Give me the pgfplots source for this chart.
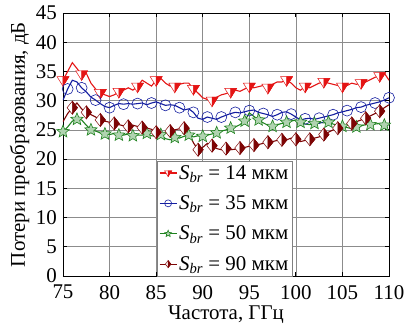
\documentclass[border=0pt]{standalone}
\usepackage{fontspec}
\setmainfont{Liberation Serif}
\usepackage{pgfplots}
\usepackage{pgfplotstable}
\pgfplotsset{compat=1.18}
\definecolor{cred}{RGB}{228,20,20}
\definecolor{cblue}{RGB}{20,30,160}
\definecolor{cgreen}{RGB}{30,130,30}
\definecolor{cdred}{RGB}{125,5,5}
\pgfdeclareplotmark{tridownhalf}{%
  \pgfpathmoveto{\pgfqpoint{-\pgfplotmarksize}{0.6\pgfplotmarksize}}%
  \pgfpathlineto{\pgfqpoint{\pgfplotmarksize}{0.6\pgfplotmarksize}}%
  \pgfpathlineto{\pgfqpoint{0pt}{-\pgfplotmarksize}}%
  \pgfpathclose
  \pgfsetfillcolor{white}\pgfusepathqfillstroke
  \pgfpathmoveto{\pgfqpoint{0pt}{0.6\pgfplotmarksize}}%
  \pgfpathlineto{\pgfqpoint{\pgfplotmarksize}{0.6\pgfplotmarksize}}%
  \pgfpathlineto{\pgfqpoint{0pt}{-\pgfplotmarksize}}%
  \pgfpathclose
  \pgfsetfillcolor{cred}\pgfusepathqfillstroke
}
\pgfdeclareplotmark{diamhalf}{%
  \pgfpathmoveto{\pgfqpoint{0pt}{\pgfplotmarksize}}%
  \pgfpathlineto{\pgfqpoint{0.8\pgfplotmarksize}{0pt}}%
  \pgfpathlineto{\pgfqpoint{0pt}{-\pgfplotmarksize}}%
  \pgfpathlineto{\pgfqpoint{-0.8\pgfplotmarksize}{0pt}}%
  \pgfpathclose
  \pgfsetfillcolor{white}\pgfusepathqfillstroke
  \pgfpathmoveto{\pgfqpoint{0pt}{\pgfplotmarksize}}%
  \pgfpathlineto{\pgfqpoint{0.8\pgfplotmarksize}{0pt}}%
  \pgfpathlineto{\pgfqpoint{0pt}{-\pgfplotmarksize}}%
  \pgfpathclose
  \pgfsetfillcolor{cdred}\pgfusepathqfillstroke
}
\pgfdeclareplotmark{fstar}{%
  \pgfpathmoveto{\pgfqpointpolar{90}{\pgfplotmarksize}}%
  \pgfpathlineto{\pgfqpointpolar{126}{0.45\pgfplotmarksize}}%
  \pgfpathlineto{\pgfqpointpolar{162}{\pgfplotmarksize}}%
  \pgfpathlineto{\pgfqpointpolar{198}{0.45\pgfplotmarksize}}%
  \pgfpathlineto{\pgfqpointpolar{234}{\pgfplotmarksize}}%
  \pgfpathlineto{\pgfqpointpolar{270}{0.45\pgfplotmarksize}}%
  \pgfpathlineto{\pgfqpointpolar{306}{\pgfplotmarksize}}%
  \pgfpathlineto{\pgfqpointpolar{342}{0.45\pgfplotmarksize}}%
  \pgfpathlineto{\pgfqpointpolar{18}{\pgfplotmarksize}}%
  \pgfpathlineto{\pgfqpointpolar{54}{0.45\pgfplotmarksize}}%
  \pgfpathclose
  \pgfusepathqfillstroke
}
\pgfplotstableread{
f a b c d
75 33.5 30.1 24.7 26.4
75.5 35 32 25.5 27.8
76 36.5 33.5 26.5 28.8
76.5 35.5 33.2 26.8 29.6
77 34.5 32.2 26.7 28.6
77.5 34.7 31.5 25.8 28
78 33 30.6 25 27.6
78.5 32 30.1 24.8 27.2
79 31.3 29.5 24.5 26.7
79.5 31 29 24.3 26.5
80 30.7 28.8 24.2 26.3
80.5 31 29.2 24.4 26.1
81 31.5 29.5 24.1 25.9
81.5 31.8 29.4 24.1 25.7
82 32.2 29.5 24.3 25.6
82.5 31.8 29.4 24 25.8
83 32.4 29.5 24.1 25.6
83.5 33.5 29.6 24.1 25.4
84 33 29.3 24.4 25.3
84.5 32.5 29.6 24 25.1
85 33.5 29.8 23.9 24.6
85.5 33.8 29.5 24.2 24.1
86 33 29.2 23.5 24.5
86.5 32.5 29.3 23.3 24.8
87 32.4 29.2 23.7 25
87.5 32.8 28.8 23.6 25.2
88 33 28.4 23.9 25.3
88.5 33 28.6 24.1 24.5
89 32 28 23.8 22.8
89.5 31.3 27 24 21.6
90 30.5 26.8 23.9 22
90.5 30.2 27.2 24.1 22.7
91 30 27 24.3 22.3
91.5 30.6 26.8 24.5 21.8
92 31 27.2 24.8 21.6
92.5 31.2 27.5 25 21.8
93 31.5 27.8 25.3 21.6
93.5 31.8 28 25.5 21.7
94 31.6 27.9 25.9 21.9
94.5 32 28.1 26.5 22
95 32.4 28.3 27.9 22.2
95.5 32.2 28.4 27.3 22.4
96 32.4 28 26.7 22.5
96.5 32.6 27.8 26.2 22.7
97 32.2 27.6 25.8 22.9
97.5 32.8 27.3 25.6 23
98 33.2 27.6 25.9 23.2
98.5 33.2 28 26.1 23.3
99 33.5 28.1 26.3 23.3
99.5 33 27.7 26.5 23.6
100 32.2 27.2 26.7 23.4
100.5 31.8 26.7 26.3 23
101 32.4 26.9 26 23.2
101.5 32.2 27 25.9 23.4
102 32.6 26.8 26.1 23.6
102.5 33 27 26.3 23.8
103 33.2 27.2 26.2 24.2
103.5 33 27.4 26.3 24.6
104 32.8 27.6 26 25
104.5 32.6 27.9 25.8 25.3
105 32.4 28.1 25.6 25.6
105.5 32.6 28.3 25.4 25.9
106 33 28.5 25.2 26.1
106.5 32.8 28.8 25.5 26.4
107 33 28.9 25.7 26.7
107.5 33.2 29.2 25.9 27
108 33.6 29.4 25.9 27.4
108.5 34 29.6 26 27.8
109 34.2 29.8 26.1 28.2
109.5 34.7 30.1 25.8 28.8
110 33.5 30.5 26.1 29.3
}\datatab
\begin{document}
\begin{tikzpicture}
\useasboundingbox (-63bp,-53bp) rectangle (347bp,276bp);
\begin{axis}[
  scale only axis, width=326bp, height=263bp,
  at={(0,0)}, anchor=south west,
  xmin=75, xmax=110, ymin=0, ymax=45,
  xtick={75,80,...,110}, ytick={0,5,...,45},
  grid=major, major grid style={draw=black!45, line width=0.6pt},
  axis line style={line width=1pt},
  tick style={black, line width=0.8pt},
  font=\fontsize{21}{24}\selectfont,
  /pgf/number format/assume math mode=true,
  ticklabel style={font=\fontsize{21}{24}\selectfont},
  xticklabel style={inner sep=1bp, yshift=-8bp},
  yticklabel style={inner sep=1bp, xshift=-5bp},
  xlabel={Частота, ГГц}, ylabel={Потери преобразования, дБ},
  xlabel style={yshift=-2bp},
  ylabel style={yshift=2bp},
  legend style={at={(rel axis cs:0.288,0)}, anchor=south west,
    draw=black!50, fill=white, font=\fontsize{21}{24}\selectfont,
    inner sep=2bp, row sep=11bp, cells={anchor=west}},
  legend image post style={mark size=3.5bp},
  every axis plot/.append style={line width=1.1pt},
]
\addplot[cred, mark=tridownhalf, mark size=6bp, mark repeat=4, mark phase=1, mark options={solid, draw=cred, line width=0.5pt}] table[x=f,y=a]{\datatab};
\addlegendentry{\textit{S}\textsubscript{\textit{br}} = 14 мкм}
\addplot[cblue, mark=o, mark size=5.5bp, mark repeat=3, mark phase=2, mark options={solid, fill=white, draw=cblue, line width=0.6pt}] table[x=f,y=b]{\datatab};
\addlegendentry{\textit{S}\textsubscript{\textit{br}} = 35 мкм}
\addplot[cgreen, mark=fstar, mark size=6.5bp, mark repeat=3, mark phase=1, mark options={solid, fill=cgreen!35!white, draw=cgreen, line width=0.6pt}] table[x=f,y=c]{\datatab};
\addlegendentry{\textit{S}\textsubscript{\textit{br}} = 50 мкм}
\addplot[cdred, mark=diamhalf, mark size=6.5bp, mark repeat=3, mark phase=3, mark options={solid, draw=cdred, line width=0.5pt}] table[x=f,y=d]{\datatab};
\addlegendentry{\textit{S}\textsubscript{\textit{br}} = 90 мкм}
\end{axis}
\end{tikzpicture}
\end{document}
